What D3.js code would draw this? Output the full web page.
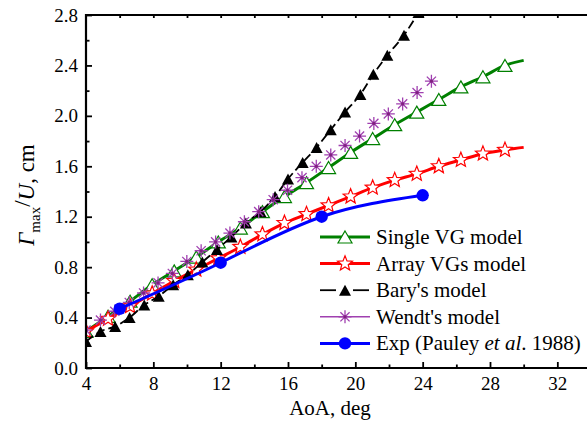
<!DOCTYPE html>
<html><head><meta charset="utf-8">
<script src="https://cdnjs.cloudflare.com/ajax/libs/d3/7.8.5/d3.min.js"></script>
<style>
html,body{margin:0;padding:0;background:#fff;}
</style></head>
<body><svg id="c" width="587" height="425"></svg>
<script>
// ---------- data ----------
const xTicks = [4, 8, 12, 16, 20, 24, 28, 32];
const yTicks = [0.0, 0.4, 0.8, 1.2, 1.6, 2.0, 2.4, 2.8];
const legendLabels = ["Single VG model", "Array VGs model", "Bary's model", "Wendt's model", "Exp (Pauley et al. 1988)"];

const singleX = [4.0,5.31,6.62,7.93,9.24,10.55,11.86,13.17,14.48,15.79,17.1,18.41,19.72,21.03,22.34,23.65,24.96,26.27,27.58,28.89];
const singleY = [0.29,0.41,0.53,0.66,0.77,0.88,1.00,1.11,1.24,1.36,1.47,1.59,1.71,1.82,1.93,2.03,2.13,2.23,2.31,2.40];
const singleEnd = [30, 2.44];

const arrayX = [4.0,5.31,6.62,7.93,9.24,10.55,11.86,13.17,14.48,15.79,17.1,18.41,19.72,21.03,22.34,23.65,24.96,26.27,27.58,28.89];
const arrayY = [0.29,0.39,0.49,0.59,0.69,0.78,0.87,0.96,1.06,1.15,1.22,1.29,1.36,1.43,1.49,1.54,1.60,1.65,1.70,1.73];
const arrayEnd = [30, 1.75];

const baryX = [4.0,4.86,5.73,6.59,7.46,8.32,9.18,10.05,10.91,11.78,12.64,13.5,14.37,15.23,16.0,16.87,17.7,18.54,19.39,20.3,21.07,21.9,22.89,23.75];
const baryY = [0.21,0.29,0.33,0.40,0.50,0.57,0.66,0.74,0.84,0.94,1.04,1.15,1.24,1.36,1.50,1.63,1.75,1.89,2.03,2.17,2.33,2.48,2.64,2.82];

const wendtX = [4.0,4.86,5.71,6.57,7.42,8.28,9.13,9.99,10.84,11.7,12.55,13.41,14.26,15.12,15.97,16.83,17.68,18.54,19.39,20.25,21.1,21.96,22.81,23.67,24.52];
const wendtY = [0.30,0.38,0.45,0.52,0.595,0.675,0.75,0.845,0.93,1.00,1.07,1.16,1.24,1.335,1.41,1.51,1.60,1.69,1.765,1.84,1.94,2.015,2.095,2.185,2.275];

const expX = [6, 12, 18, 24];
const expY = [0.47, 0.835, 1.20, 1.37];

// ---------- layout ----------
const FONT = '"Liberation Serif", "Times New Roman", serif';
const svg = d3.select("#c");
const L = 86, R = 591, T = 15, B = 368;
const x = d3.scaleLinear().domain([4, 34]).range([L, R]);
const y = d3.scaleLinear().domain([0, 2.8]).range([B, T]);

svg.append("defs").append("clipPath").attr("id","clip")
  .append("rect").attr("x",L).attr("y",T).attr("width",R-L).attr("height",B-T);

const zip = (xs, ys) => xs.map((v,i)=>[v, ys[i]]);

function triPath(w,h){return `M0,${-h/2}L${w/2},${h/2}L${-w/2},${h/2}Z`;}
function starPath(ro,ri){let p="";for(let i=0;i<10;i++){const r=i%2?ri:ro;const a=-Math.PI/2+i*Math.PI/5;p+=(i?"L":"M")+(r*Math.cos(a)).toFixed(2)+","+(r*Math.sin(a)).toFixed(2);}return p+"Z";}
function astPath(r){let p="";for(let i=0;i<4;i++){const a=i*Math.PI/4;p+=`M${(-r*Math.cos(a)).toFixed(2)},${(-r*Math.sin(a)).toFixed(2)}L${(r*Math.cos(a)).toFixed(2)},${(r*Math.sin(a)).toFixed(2)}`;}return p;}

const colors = {single:"#008000", array:"#ff0000", bary:"#000000", wendt:"#a040b0", exp:"#0000ff"};
function drawMarker(g, kind, cx, cy){
  if(kind==="single") g.append("path").attr("d",triPath(14,12)).attr("transform",`translate(${cx},${cy})`).attr("fill","#fff").attr("stroke","#008000").attr("stroke-width",1.2);
  if(kind==="array") g.append("path").attr("d",starPath(7.8,3.4)).attr("transform",`translate(${cx},${cy})`).attr("fill","#fff").attr("stroke","#ff0000").attr("stroke-width",1.2);
  if(kind==="bary") g.append("path").attr("d",triPath(12,11)).attr("transform",`translate(${cx},${cy})`).attr("fill","#000");
  if(kind==="wendt"){ g.append("path").attr("d",astPath(6.5)).attr("transform",`translate(${cx},${cy})`).attr("stroke","#a040b0").attr("stroke-width",1.3).attr("fill","none");
    g.append("circle").attr("cx",cx).attr("cy",cy).attr("r",1.6).attr("fill","#802080"); }
  if(kind==="exp") g.append("circle").attr("cx",cx).attr("cy",cy).attr("r",6.2).attr("fill","#0000ff");
}

const plot = svg.append("g").attr("clip-path","url(#clip)");
const lineM = d3.line().x(d=>x(d[0])).y(d=>y(d[1])).curve(d3.curveMonotoneX);

const singlePts = zip(singleX, singleY);
plot.append("path").attr("d", lineM([...singlePts, singleEnd])).attr("fill","none").attr("stroke",colors.single).attr("stroke-width",3);
singlePts.forEach(d=>drawMarker(plot,"single",x(d[0]),y(d[1])));
const arrayPts = zip(arrayX, arrayY);
plot.append("path").attr("d", lineM([...arrayPts, arrayEnd])).attr("fill","none").attr("stroke",colors.array).attr("stroke-width",3);
arrayPts.forEach(d=>drawMarker(plot,"array",x(d[0]),y(d[1])));
const baryPts = zip(baryX, baryY);
plot.append("path").attr("d", lineM(baryPts)).attr("fill","none").attr("stroke","#000").attr("stroke-width",1.8).attr("stroke-dasharray","9,4");
baryPts.forEach(d=>drawMarker(plot,"bary",x(d[0]),y(d[1])));
zip(wendtX, wendtY).forEach(d=>drawMarker(plot,"wendt",x(d[0]),y(d[1])));
const expPts = zip(expX, expY);
plot.append("path").attr("d", d3.line().x(d=>x(d[0])).y(d=>y(d[1])).curve(d3.curveNatural)(expPts)).attr("fill","none").attr("stroke","#0000ff").attr("stroke-width",3);
expPts.forEach(d=>drawMarker(plot,"exp",x(d[0]),y(d[1])));

// ---------- axes ----------
const fs = 19;
const xMinor = d3.range(6, 34, 4);
const yMinor = d3.range(0.2, 2.8, 0.4);
const gx = svg.append("g").attr("transform",`translate(0,${B})`)
  .call(d3.axisBottom(x).tickValues(xTicks).tickSize(-6).tickPadding(9).tickFormat(d3.format("d")));
gx.append("g").call(d3.axisBottom(x).tickValues(xMinor).tickSize(-3.5).tickFormat(""));
const gy = svg.append("g").attr("transform",`translate(${L},0)`)
  .call(d3.axisLeft(y).tickValues(yTicks).tickSize(-6).tickPadding(8).tickFormat(d3.format(".1f")));
gy.append("g").call(d3.axisLeft(y).tickValues(yMinor).tickSize(-3.5).tickFormat(""));
const gt = svg.append("g").attr("transform",`translate(0,${T})`)
  .call(d3.axisTop(x).tickValues(d3.range(6,34,2)).tickSize(-3).tickFormat(""));
[gx,gy,gt].forEach(g=>{
  g.selectAll(".domain").remove();
  g.selectAll("line").attr("stroke","#000").attr("stroke-width",1.8);
  g.selectAll("text").style("font-family",FONT).style("font-size",fs+"px").attr("fill","#000");
});
svg.append("line").attr("x1",L-1).attr("x2",R).attr("y1",T).attr("y2",T).attr("stroke","#000").attr("stroke-width",2.2);
svg.append("line").attr("x1",L).attr("x2",L).attr("y1",T-1).attr("y2",B+1).attr("stroke","#000").attr("stroke-width",2.2);
svg.append("line").attr("x1",L-1).attr("x2",R).attr("y1",B).attr("y2",B).attr("stroke","#000").attr("stroke-width",2.2);

// titles
svg.append("text").attr("x",330).attr("y",415).attr("text-anchor","middle").style("font-family",FONT).style("font-size","21px").text("AoA, deg");
const yt = svg.append("text").attr("transform","translate(34,195) rotate(-90)").attr("text-anchor","middle").style("font-family",FONT).style("font-size","23px");
yt.append("tspan").attr("font-style","italic").text("Γ");
yt.append("tspan").style("font-size","15px").attr("dy",6).text("max");
yt.append("tspan").attr("dy",-10).text("/");
yt.append("tspan").attr("dy",4).attr("font-style","italic").text("U");
yt.append("tspan").text(", cm");

// ---------- legend ----------
const keys = ["single","array","bary","wendt","exp"];
const lg = svg.append("g");
keys.forEach((k,i)=>{
  const ly = 237 + i*26.6;
  if(k==="bary"){
    lg.append("line").attr("x1",320).attr("x2",336).attr("y1",ly).attr("y2",ly).attr("stroke","#000").attr("stroke-width",1.8);
    lg.append("line").attr("x1",353).attr("x2",369).attr("y1",ly).attr("y2",ly).attr("stroke","#000").attr("stroke-width",1.8);
  } else {
    lg.append("line").attr("x1",320).attr("x2",370).attr("y1",ly).attr("y2",ly).attr("stroke",colors[k]).attr("stroke-width",k==="wendt"?1.6:3);
  }
  drawMarker(lg,k,345,ly);
  const t = lg.append("text").attr("x",376).attr("y",ly+7).style("font-family",FONT).style("font-size","21px");
  if(k==="exp"){
    t.append("tspan").text("Exp (Pauley ");
    t.append("tspan").attr("font-style","italic").text("et al");
    t.append("tspan").text(". 1988)");
  } else t.text(legendLabels[i]);
});
</script></body></html>
